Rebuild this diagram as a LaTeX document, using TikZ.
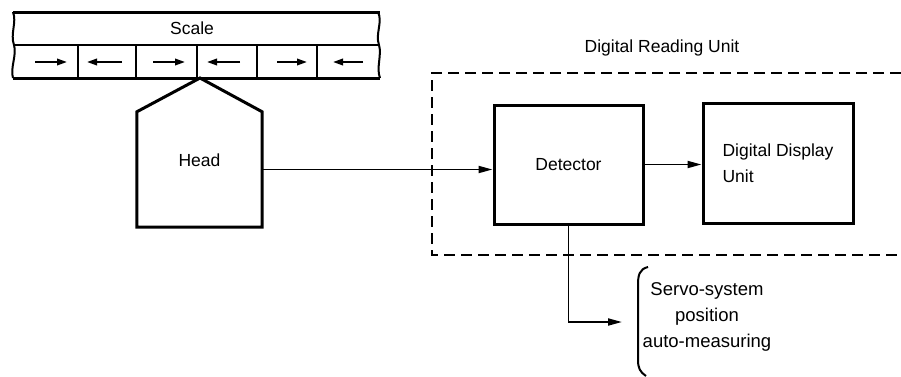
\documentclass[tikz,border=0pt]{standalone}
\usepackage{fontspec}
\setmainfont{Liberation Sans}
\usetikzlibrary{arrows.meta}
\tikzset{
  blockbox/.style={draw, line width=3pt, minimum width=149pt, minimum height=119pt},
  flow/.style={line width=1.9pt, -{Triangle[length=14pt,width=7pt]}},
  scalearrow/.style={line width=2pt, -{Triangle[length=10pt,width=6.5pt]}},
}
\begin{document}
\begin{tikzpicture}[x=1pt, y=-1pt, font=\fontsize{17.5}{26}\selectfont]
    \useasboundingbox (0,0) rectangle (901,376);

    % Scale
    \draw[line width=3pt] (13,12) -- (380,12);
    \draw[line width=2.4pt] (13,45) -- (380,45);
    \draw[line width=3pt] (13,78) -- (380,78);
    \draw[line width=2pt] (13,12) .. controls (17,22) and (10,34) .. (14,45) .. controls (17,55) and (10,68) .. (13,78);
    \draw[line width=2pt] (378,12) .. controls (383,22) and (375,34) .. (379,45) .. controls (382,55) and (376,68) .. (380,78);
    \draw[line width=2.6pt] (78,45) -- (78,78);
    \draw[line width=2.6pt] (136,45) -- (136,78);
    \draw[line width=2.6pt] (197,45) -- (197,78);
    \draw[line width=2.6pt] (257,45) -- (257,78);
    \draw[line width=2.6pt] (317,45) -- (317,78);
    \node (scale) at (192,28) {Scale};

    % Aimants
    \draw[scalearrow] (35,62) -- (67,62);
    \draw[scalearrow] (122,62) -- (87,62);
    \draw[scalearrow] (153,62) -- (185,62);
    \draw[scalearrow] (240,62) -- (207,62);
    \draw[scalearrow] (277,62) -- (307,62);
    \draw[scalearrow] (363,62) -- (333,62);

    % Tete
    \node[minimum width=125pt, minimum height=115pt, inner sep=0pt] (head) at (199.5,169.5) {};
    \draw[line width=3pt] (head.south west) -- (head.north west) -- (200,78) -- (head.north east) -- (head.south east) -- cycle;
    \node at ([yshift=9pt]head.center) {Head};

    % Unite de lecture
    \draw[line width=2.6pt, dash pattern=on 11pt off 6pt] (901,73) -- (432,73) -- (432,255) -- (901,255);
    \node (unit) at (662,48) {Digital Reading Unit};
    \node[blockbox] (detector) at (568.5,164.5) {Detector};
    \node[blockbox, minimum width=150pt, minimum height=120pt, align=left] (display) at (778,163) {Digital Display\\Unit};

    % Liaisons
    \draw[flow] (head.east) -- (head.east -| detector.west);
    \draw[flow] (detector.east) -- (detector.east -| display.west);
    \coordinate (servo) at (622,322);
    \draw[flow] (detector.south) |- (servo);

    % Sortie
    \draw[line width=2pt] (648,267) .. controls (639,269) and (638,276) .. (638,285) -- (638,360) .. controls (638,368) and (640,372) .. (646,376);
    \node[align=center, font=\fontsize{18.5}{26}\selectfont] (servotext) at (707,317) {Servo-system\\position\\auto-measuring};
\end{tikzpicture}
\end{document}
